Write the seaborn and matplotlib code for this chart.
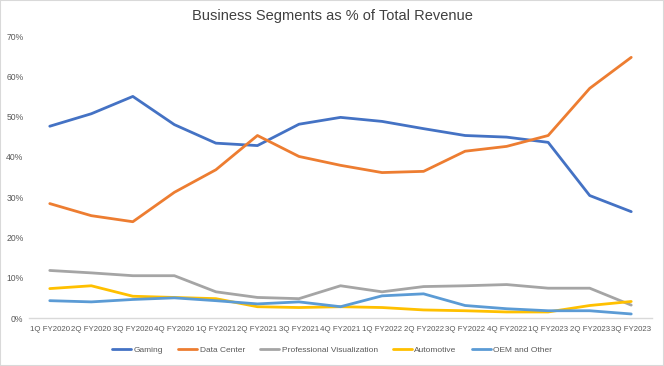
import matplotlib
matplotlib.use("Agg")
import matplotlib.pyplot as plt
import seaborn as sns
import pandas as pd
from matplotlib.patches import Rectangle
from matplotlib.ticker import FuncFormatter

quarters = ["1Q FY2020", "2Q FY2020", "3Q FY2020", "4Q FY2020",
            "1Q FY2021", "2Q FY2021", "3Q FY2021", "4Q FY2021",
            "1Q FY2022", "2Q FY2022", "3Q FY2022", "4Q FY2022",
            "1Q FY2023", "2Q FY2023", "3Q FY2023"]
gaming = [47.6, 50.7, 55.0, 48.0, 43.4, 42.8, 48.1, 49.8, 48.8, 47.0, 45.3, 44.9, 43.6, 30.4, 26.4]
data_center = [28.4, 25.4, 23.9, 31.2, 36.8, 45.3, 40.1, 37.9, 36.1, 36.4, 41.4, 42.6, 45.3, 57.0, 64.7]
pro_viz = [11.8, 11.2, 10.5, 10.5, 6.5, 5.1, 4.8, 8.0, 6.5, 7.8, 8.0, 8.3, 7.4, 7.4, 3.2]
automotive = [7.3, 8.0, 5.4, 5.1, 4.8, 2.8, 2.6, 2.8, 2.6, 2.0, 1.8, 1.5, 1.5, 3.1, 4.1]
oem_other = [4.3, 4.0, 4.6, 5.0, 4.3, 3.5, 4.0, 2.8, 5.5, 6.0, 3.1, 2.3, 1.8, 1.8, 1.0]

segments = ["Gaming", "Data Center", "Professional Visualization", "Automotive", "OEM and Other"]
series = [gaming, data_center, pro_viz, automotive, oem_other]
colors = ["#4472C4", "#ED7D31", "#A5A5A5", "#FFC000", "#5B9BD5"]

rows = []
for name, vals in zip(segments, series):
    for i, v in enumerate(vals):
        rows.append({"idx": i, "quarter": quarters[i], "segment": name, "value": v})
df = pd.DataFrame(rows)

sns.set_theme(style="white")
plt.rcParams["font.family"] = ["Liberation Sans", "DejaVu Sans"]

fig = plt.figure(figsize=(6.64, 3.66), dpi=100)
ax = fig.add_axes([29 / 664, 1 - 318 / 366, (652 - 29) / 664, (318 - 36) / 366])

sns.lineplot(data=df, x="idx", y="value", hue="segment", hue_order=segments,
             palette=colors, linewidth=2.0, ax=ax, sort=False)

ax.set_xlim(-0.5, len(quarters) - 0.5)
ax.set_ylim(0, 70)
ax.set_yticks(range(0, 71, 10))
ax.yaxis.set_major_formatter(FuncFormatter(lambda v, p: f"{int(v)}%"))
ax.set_xticks(range(len(quarters)))
ax.set_xticklabels(quarters)
ax.tick_params(axis="both", colors="#595959", length=0)
ax.tick_params(axis="x", labelsize=5.7, pad=6)
ax.tick_params(axis="y", labelsize=6.2, pad=4)
ax.set_xlabel("")
ax.set_ylabel("")
for s in ["top", "right", "left"]:
    ax.spines[s].set_visible(False)
ax.spines["bottom"].set_color("#D9D9D9")
ax.spines["bottom"].set_linewidth(1.0)
ax.grid(False)

ax.legend_.remove()
handles, labels = ax.get_legend_handles_labels()
fig.legend(handles, labels, loc="center", bbox_to_anchor=(0.5, 1 - 350 / 366), ncol=5,
           frameon=False, fontsize=6.0, handlelength=2.3, handletextpad=0.3,
           columnspacing=1.8, labelcolor="#595959")

fig.text(0.5, 1 - 16 / 366, "Business Segments as % of Total Revenue", ha="center", va="center",
         fontsize=10.5, color="#404040")

fig.patches.append(Rectangle((0, 0), 1, 1, transform=fig.transFigure, fill=False,
                             edgecolor="#D9D9D9", linewidth=1.5))

fig.savefig("out.png", dpi=100)
